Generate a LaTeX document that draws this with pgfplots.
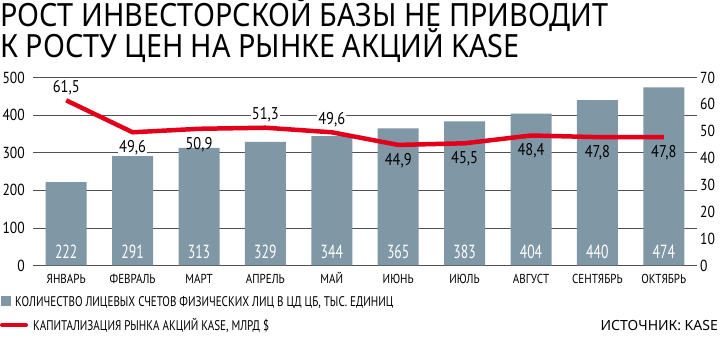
\documentclass[border=0pt]{standalone}
\usepackage{fontspec}
\usepackage{pgfplots}
\pgfplotsset{compat=1.18}
\setmainfont{PT Sans}
\newfontfamily\cond{PT Sans}[FakeStretch=0.85]
\newfontfamily\lcond{PT Sans}[FakeStretch=0.79]
\newfontfamily\vcond{PT Sans}[FakeStretch=0.72]
\newfontfamily\titlef{Noto Sans}[FakeStretch=0.9]
\newfontfamily\srcf{Noto Sans}
\definecolor{barc}{RGB}{128,151,166}
\definecolor{redl}{RGB}{226,0,26}
\definecolor{gridc}{RGB}{80,80,80}
\begin{document}
\begin{tikzpicture}[x=1pt,y=1pt,
  vlab/.style={font=\vcond\fontsize{19}{19}\selectfont, text=white, anchor=base, inner sep=0pt, yshift=7pt},
  ab/.style={font=\cond\fontsize{17}{17}\selectfont, anchor=south, inner sep=1pt, yshift=4pt},
  be/.style={font=\cond\fontsize{17}{17}\selectfont, anchor=north, inner sep=1pt, yshift=-7pt}]
\path[use as bounding box] (0,0) rectangle (720,351);
\begin{axis}[
  at={(33pt,85.5pt)}, anchor=south west, scale only axis,
  width=664pt, height=188pt,
  xmin=-0.5, xmax=9.5, ymin=0, ymax=500,
  axis line style={draw=none},
  xtick={0,...,9},
  xticklabels={ЯНВАРЬ,ФЕВРАЛЬ,МАРТ,АПРЕЛЬ,МАЙ,ИЮНЬ,ИЮЛЬ,АВГУСТ,СЕНТЯБРЬ,ОКТЯБРЬ},
  ytick={0,100,...,500},
  ymajorgrids, grid style={gridc, line width=0.8pt},
  major tick length=0pt,
  tick style={draw=none},
  /pgf/number format/assume math mode=true,
  yticklabel style={font=\cond\fontsize{16}{16}\selectfont, anchor=east, inner sep=0pt, xshift=-8pt},
  xticklabel style={font=\cond\fontsize{13}{13}\selectfont, anchor=base, inner sep=0pt, yshift=-17.5pt, text=black},
  clip=false,
]
\addplot[ybar, bar width=41pt, fill=barc, draw=none] coordinates {(0,222)(1,291)(2,313)(3,329)(4,344)(5,365)(6,383)(7,404)(8,440)(9,474)};
\node[vlab] at (axis cs:0,0) {222};
\node[vlab] at (axis cs:1,0) {291};
\node[vlab] at (axis cs:2,0) {313};
\node[vlab] at (axis cs:3,0) {329};
\node[vlab] at (axis cs:4,0) {344};
\node[vlab] at (axis cs:5,0) {365};
\node[vlab] at (axis cs:6,0) {383};
\node[vlab] at (axis cs:7,0) {404};
\node[vlab] at (axis cs:8,0) {440};
\node[vlab] at (axis cs:9,0) {474};
\end{axis}
\begin{axis}[
  at={(33pt,85.5pt)}, anchor=south west, scale only axis,
  width=664pt, height=188pt,
  xmin=-0.5, xmax=9.5, ymin=0, ymax=70,
  axis line style={draw=none}, xtick=\empty,
  ytick={0,10,...,70}, yticklabel pos=right,
  tick style={draw=none}, major tick length=0pt,
  /pgf/number format/assume math mode=true,
  yticklabel style={font=\cond\fontsize{16}{16}\selectfont, anchor=west, inner sep=0pt, xshift=3pt},
  clip=false,
]
\addplot[redl, line width=4.5pt, line join=round, mark=none] coordinates {(0,61.5)(1,49.6)(2,50.9)(3,51.3)(4,49.6)(5,44.9)(6,45.5)(7,48.4)(8,47.8)(9,47.8)};
\node[ab, fill=white] at (axis cs:0,61.5) {61,5};
\node[be, fill=white] at (axis cs:1,49.6) {49,6};
\node[be] at (axis cs:2,50.9) {50,9};
\node[ab, fill=white] at (axis cs:3,51.3) {51,3};
\node[ab, fill=white] at (axis cs:4,49.6) {49,6};
\node[be] at (axis cs:5,44.9) {44,9};
\node[be] at (axis cs:6,45.5) {45,5};
\node[be] at (axis cs:7,48.4) {48,4};
\node[be] at (axis cs:8,47.8) {47,8};
\node[be] at (axis cs:9,47.8) {47,8};
\end{axis}
\node[anchor=base west, inner sep=0pt, font=\titlef\fontsize{32}{32}\selectfont] at (0,324.3) {РОСТ ИНВЕСТОРСКОЙ БАЗЫ НЕ ПРИВОДИТ};
\node[anchor=base west, inner sep=0pt, font=\titlef\fontsize{32}{32}\selectfont] at (0,293.7) {К РОСТУ ЦЕН НА РЫНКЕ АКЦИЙ KASE};
\fill[barc] (1,45) rectangle (11,55);
\node[anchor=base west, inner sep=0pt, font=\lcond\fontsize{14}{14}\selectfont] at (15,45) {КОЛИЧЕСТВО ЛИЦЕВЫХ СЧЕТОВ ФИЗИЧЕСКИХ ЛИЦ В ЦД ЦБ, ТЫС. ЕДИНИЦ};
\draw[redl, line width=4pt, line cap=round] (2,26) -- (26,26);
\node[anchor=base west, inner sep=0pt, font=\lcond\fontsize{14}{14}\selectfont] at (33,21) {КАПИТАЛИЗАЦИЯ РЫНКА АКЦИЙ KASE, МЛРД \$};
\node[anchor=base east, inner sep=0pt, font=\srcf\fontsize{14}{14}\selectfont] at (718,21) {ИСТОЧНИК: KASE};
\end{tikzpicture}
\end{document}
